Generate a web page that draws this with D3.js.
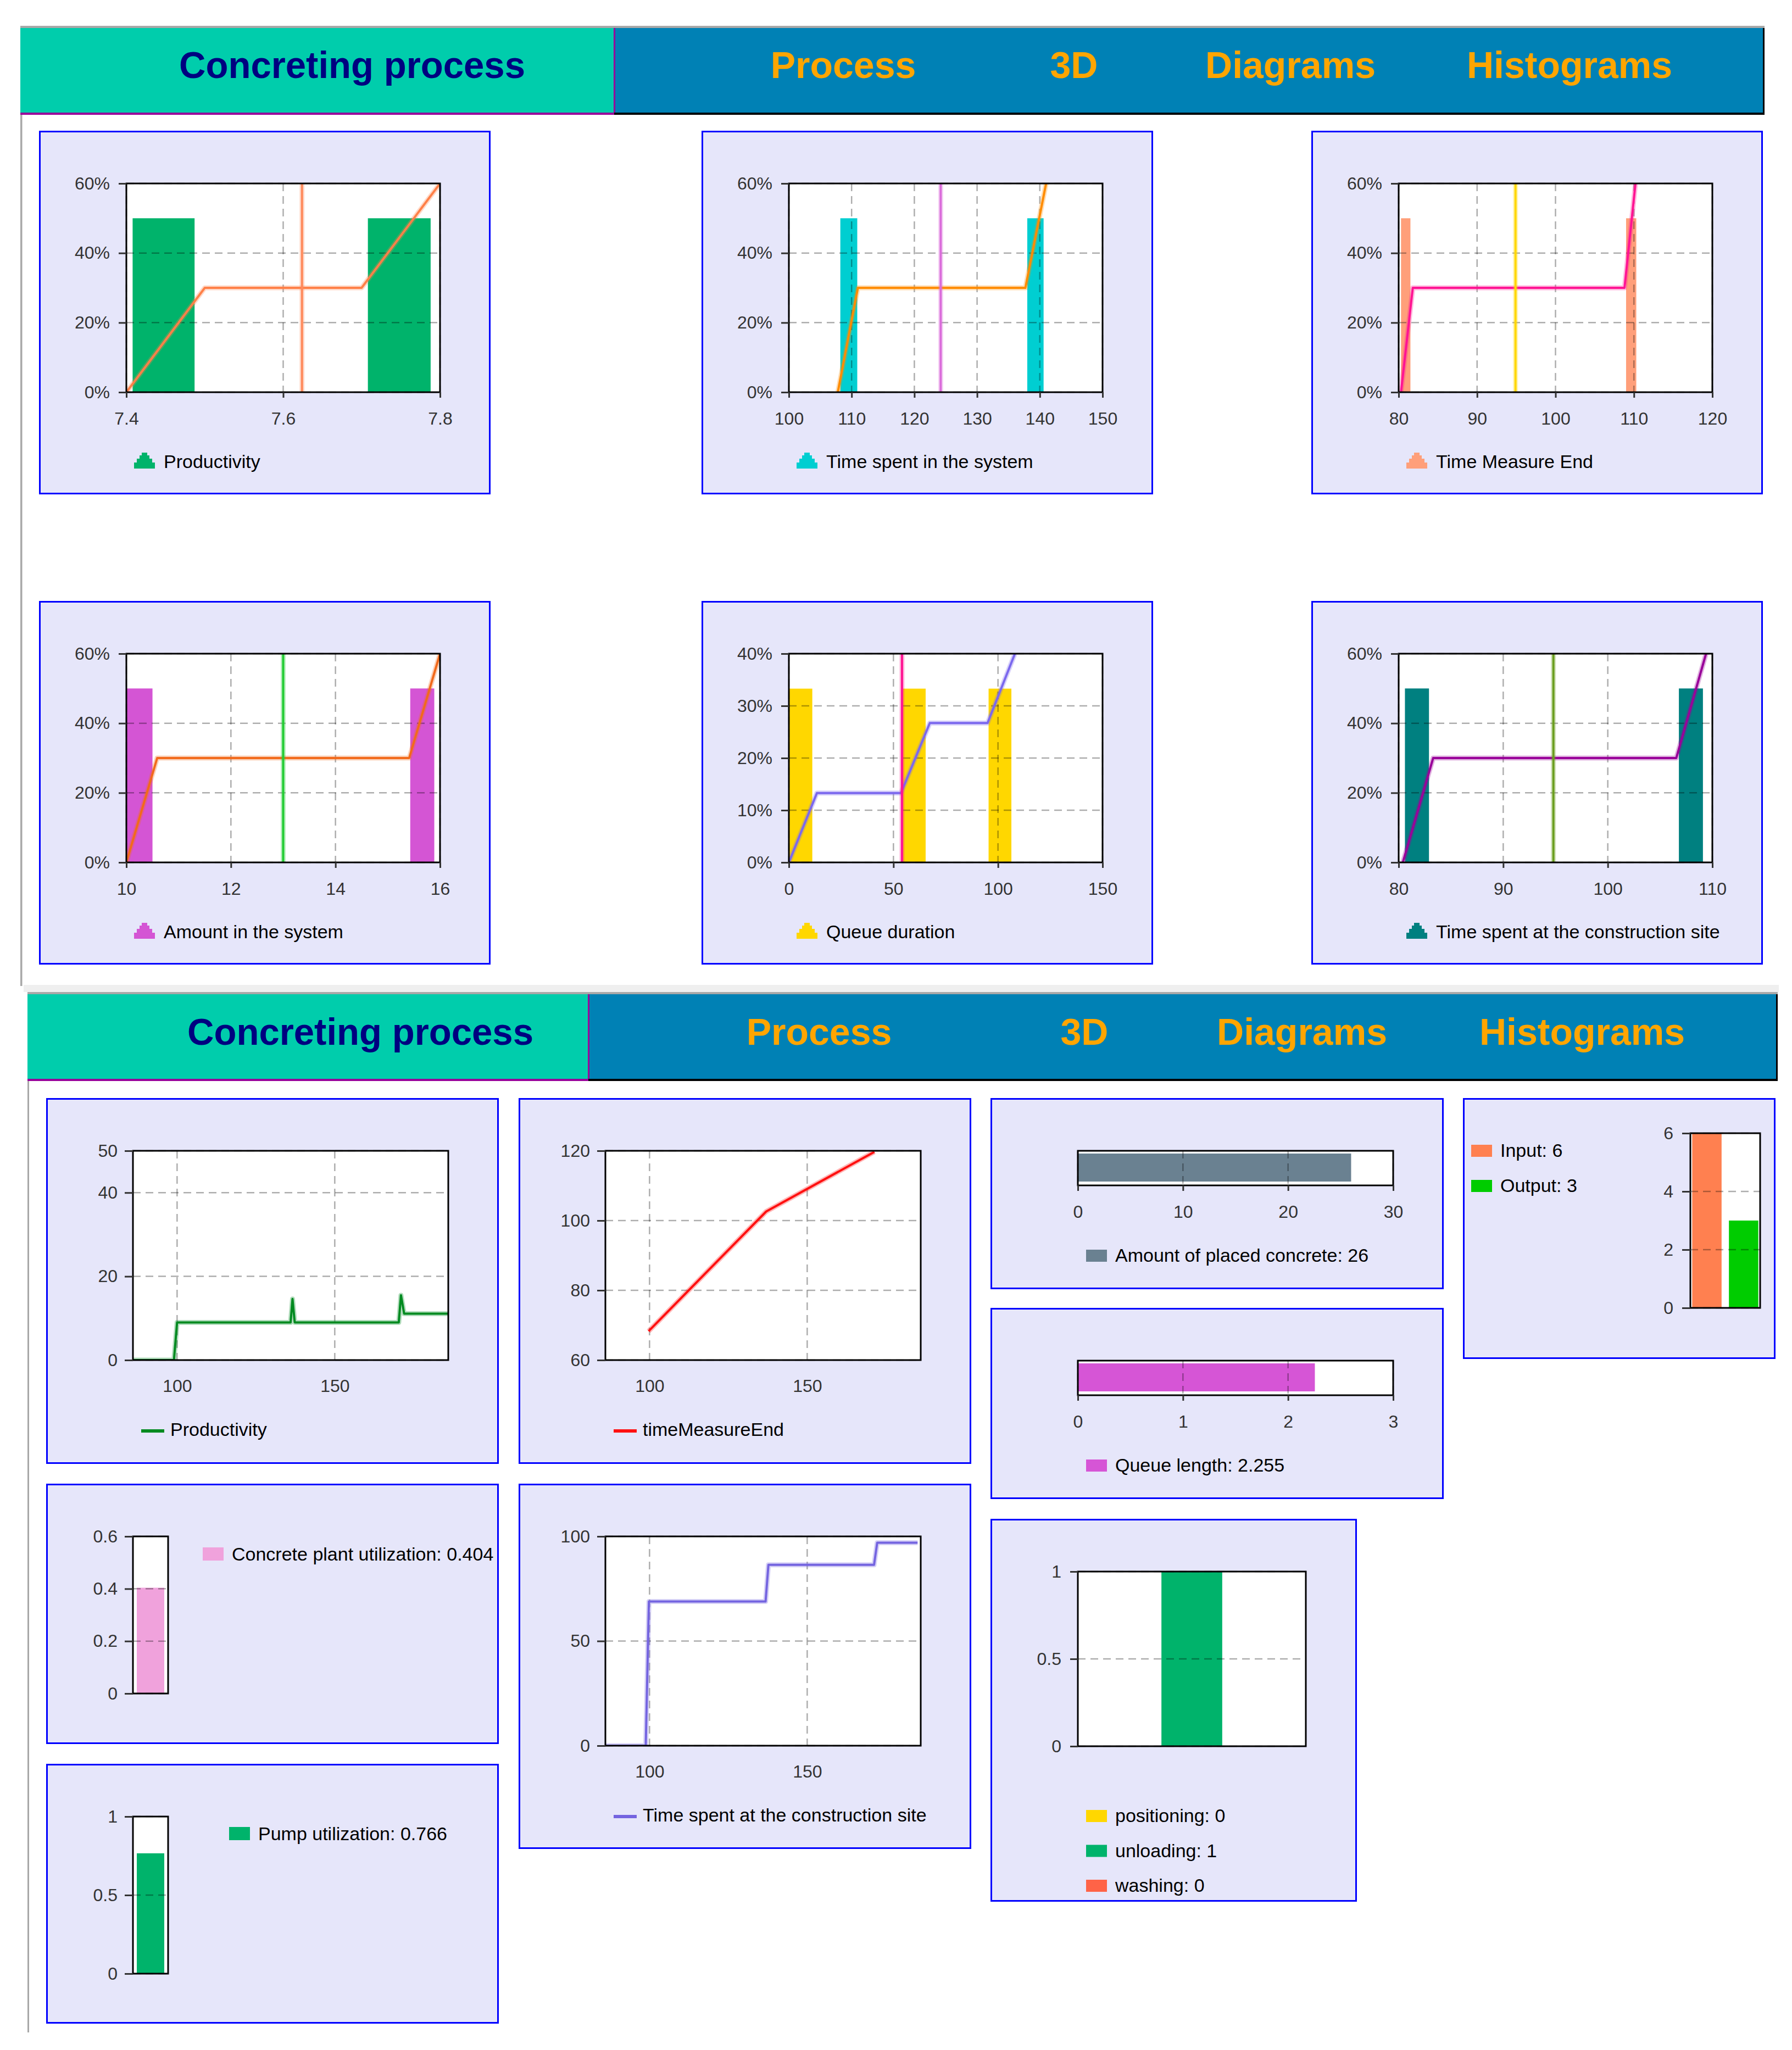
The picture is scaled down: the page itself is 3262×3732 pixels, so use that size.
<!DOCTYPE html>
<html>
<head>
<meta charset="utf-8">
<script src="https://cdn.jsdelivr.net/npm/d3@7"></script>
<style>
  body { margin: 0; background: #fff; }
  svg { display: block; }
</style>
</head>
<body>
<script>
// ---------- data ----------
const titleText = "Concreting process";
const tabLabels = ["Process", "3D", "Diagrams", "Histograms"];

// top histograms: bins [from, to, share], cumulative line [x, share], mean marker
const productivityBins = [[7.408, 7.487, 0.5], [7.708, 7.788, 0.5]];
const productivityCdf = [[7.4, 0], [7.5, 0.3], [7.7, 0.3], [7.8, 0.6]];
const productivityMean = 7.624;
const productivityTicks = [7.4, 7.6, 7.8];

const systemTimeBins = [[108.2, 110.9, 0.5], [138.0, 140.6, 0.5]];
const systemTimeCdf = [[107.8, 0], [111.0, 0.3], [137.7, 0.3], [141.0, 0.6]];
const systemTimeMean = 124.2;
const systemTimeTicks = [100, 110, 120, 130, 140, 150];

const measureEndBins = [[80.3, 81.5, 0.5], [109.0, 110.3, 0.5]];
const measureEndCdf = [[80.3, 0], [81.8, 0.3], [108.8, 0.3], [110.2, 0.6]];
const measureEndMean = 94.9;
const measureEndTicks = [80, 90, 100, 110, 120];

const amountBins = [[10.0, 10.5, 0.5], [15.43, 15.89, 0.5]];
const amountCdf = [[10, 0], [10.59, 0.3], [15.41, 0.3], [16, 0.6]];
const amountMean = 13.0;
const amountTicks = [10, 12, 14, 16];

const queueDurBins = [[0, 11.2, 0.333], [54.1, 65.4, 0.333], [95.5, 106.4, 0.333]];
const queueDurCdf = [[0, 0], [13.4, 0.133], [53.6, 0.133], [67.4, 0.267], [95.0, 0.267], [108.1, 0.4]];
const queueDurMean = 54.1;
const queueDurTicks = [0, 50, 100, 150];

const siteTimeBins = [[80.6, 82.9, 0.5], [106.8, 109.1, 0.5]];
const siteTimeCdf = [[80.4, 0], [83.3, 0.3], [106.55, 0.3], [109.4, 0.6]];
const siteTimeMean = 94.8;
const siteTimeTicks = [80, 90, 100, 110];

const pctTicks60 = [0, 0.2, 0.4, 0.6];
const pctTicks40 = [0, 0.1, 0.2, 0.3, 0.4];

// bottom time plots [time, value]
const timeTicks = [100, 150];
const productivitySeries = [[86, 0], [99, 0], [100, 9], [136, 9], [136.6, 14.6], [137.3, 9], [170.3, 9], [171, 15.5], [172, 11.1], [186, 11.1]];
const productivityTicksY = [0, 20, 40, 50];
const measureEndSeries = [[99.7, 68.3], [137, 102.6], [171.3, 119.7]];
const measureEndTicksY = [60, 80, 100, 120];
const siteTimeSeries = [[86, 0], [98.8, 0], [99.8, 68.9], [136.8, 68.9], [137.7, 86.4], [171.2, 86.4], [172.2, 97.0], [185, 97.0]];
const siteTimeTicksY = [0, 50, 100];

// gauges
const placedConcrete = 26;
const placedTicks = [0, 10, 20, 30];
const queueLength = 2.255;
const queueTicks = [0, 1, 2, 3];
const plantUtil = 0.404;
const plantTicks = [0, 0.2, 0.4, 0.6];
const pumpUtil = 0.766;
const pumpTicks = [0, 0.5, 1];
const flowLabels = ["Input", "Output"];
const flowValues = [6, 3];
const flowTicks = [0, 2, 4, 6];
const stateLabels = ["positioning", "unloading", "washing"];
const stateValues = [0, 1, 0];
const stateTicks = [0, 0.5, 1];

// ---------- setup ----------
const FONT = "'Liberation Sans', Arial, sans-serif";
const svg = d3.select("body").append("svg")
    .attr("width", 3262)
    .attr("height", 3732)
    .style("background-color", "#fff");

let clipCount = 0;
function clipTo(g, L, T, w, h) {
    const id = "clip" + (clipCount++);
    g.append("clipPath").attr("id", id)
        .append("rect").attr("x", L).attr("y", T).attr("width", w).attr("height", h);
    return "url(#" + id + ")";
}

function panel(px, py, w, h) {
    const g = svg.append("g").attr("transform", `translate(${px},${py})`);
    g.append("rect")
        .attr("x", 1.5).attr("y", 1.5)
        .attr("width", w - 3).attr("height", h - 3)
        .attr("fill", "#E6E6FA")
        .attr("stroke", "#0000FF")
        .attr("stroke-width", 3);
    return g;
}

function styleAxis(g, gen, tx, ty) {
    const a = g.append("g").attr("transform", `translate(${tx},${ty})`).call(gen);
    a.attr("font-size", 32).attr("font-family", FONT);
    a.select(".domain").remove();
    a.selectAll(".tick line").attr("stroke", "#333").attr("stroke-width", 3);
    a.selectAll(".tick text").attr("fill", "#333");
    return a;
}

function grid(g, xs, ys, x, y, L, T, w, h) {
    const gg = g.append("g")
        .attr("stroke", "#000")
        .attr("stroke-opacity", 0.32)
        .attr("stroke-width", 2.5)
        .attr("stroke-dasharray", "14,9");
    gg.selectAll(".gx").data(xs).join("line").attr("class", "gx")
        .attr("x1", d => x(d)).attr("x2", d => x(d))
        .attr("y1", T).attr("y2", T + h);
    gg.selectAll(".gy").data(ys).join("line").attr("class", "gy")
        .attr("x1", L).attr("x2", L + w)
        .attr("y1", d => y(d)).attr("y2", d => y(d));
}

function frame(g, L, T, w, h) {
    g.append("rect")
        .attr("x", L).attr("y", T).attr("width", w).attr("height", h)
        .attr("fill", "none").attr("stroke", "#000").attr("stroke-width", 3);
}

// line with a soft halo, like the original renderer
function softPath(g, data, line, color, clip) {
    const lg = g.append("g").attr("clip-path", clip);
    lg.append("path").datum(data).attr("d", line)
        .attr("fill", "none").attr("stroke", color)
        .attr("stroke-width", 9).attr("stroke-opacity", 0.3)
        .attr("stroke-linejoin", "round");
    lg.append("path").datum(data).attr("d", line)
        .attr("fill", "none").attr("stroke", color)
        .attr("stroke-width", 4)
        .attr("stroke-linejoin", "round");
}

function legendText(g, x, y, text) {
    g.append("text")
        .attr("x", x).attr("y", y)
        .attr("font-family", FONT)
        .attr("font-size", 34)
        .attr("fill", "#000")
        .text(text);
}

function legendBox(g, x, baseline, color, text, boxH) {
    const bh = boxH || 22;
    g.append("rect")
        .attr("x", x).attr("y", baseline - bh)
        .attr("width", 38).attr("height", bh)
        .attr("fill", color);
    legendText(g, x + 53, baseline, text);
}

// ---------- headers ----------
function header(o) {
    const g = svg.append("g");
    const hh = 154;
    g.append("rect").attr("x", o.left).attr("y", o.top).attr("width", o.right - o.left).attr("height", 4).attr("fill", "#a8a8a8");
    g.append("rect").attr("x", o.left).attr("y", o.top + 4).attr("width", o.split - o.left).attr("height", hh).attr("fill", "#00CDAC");
    g.append("rect").attr("x", o.split).attr("y", o.top + 4).attr("width", o.right - o.split).attr("height", hh).attr("fill", "#0081B5");
    g.append("rect").attr("x", o.left).attr("y", o.top + 4 + hh).attr("width", o.split - o.left).attr("height", 4).attr("fill", "#990099");
    g.append("rect").attr("x", o.split).attr("y", o.top + 4 + hh).attr("width", o.right - o.split).attr("height", 4).attr("fill", "#000");
    g.append("rect").attr("x", o.split - 1).attr("y", o.top + 4).attr("width", 3).attr("height", hh).attr("fill", "#990099");
    g.append("rect").attr("x", o.right - 3).attr("y", o.top + 4).attr("width", 3).attr("height", hh + 4).attr("fill", "#000");

    g.append("text")
        .attr("x", o.titleX).attr("y", o.baseline)
        .attr("text-anchor", "middle")
        .attr("font-family", FONT).attr("font-weight", "bold").attr("font-size", 68)
        .attr("fill", "#000080")
        .attr("textLength", 630).attr("lengthAdjust", "spacingAndGlyphs")
        .text(titleText);

    g.selectAll(".tab").data(tabLabels).join("text").attr("class", "tab")
        .attr("x", (d, i) => o.tabX[i]).attr("y", o.baseline)
        .attr("text-anchor", "middle")
        .attr("font-family", FONT).attr("font-weight", "bold").attr("font-size", 68)
        .attr("fill", "#FFA500")
        .text(d => d);
}

// page borders
svg.append("rect").attr("x", 37).attr("y", 47).attr("width", 3.5).attr("height", 1748).attr("fill", "#a8a8a8");
svg.append("rect").attr("x", 43).attr("y", 1793).attr("width", 3195).attr("height", 13).attr("fill", "#efefef");
svg.append("rect").attr("x", 50).attr("y", 1806).attr("width", 3).attr("height", 1894).attr("fill", "#a8a8a8");

header({ left: 37, top: 47, split: 1118, right: 3212, titleX: 641, baseline: 142, tabX: [1535, 1955, 2349, 2857] });
header({ left: 50, top: 1806, split: 1071, right: 3236, titleX: 656, baseline: 1902, tabX: [1491, 1974, 2370, 2880] });

// ---------- top histogram panels ----------
const mountain = "M0,29V18H5V11H10V5H14V0H24V5H28V11H33V18H38V29Z";

function histPanel(px, py, c) {
    const g = panel(px, py, 822, 662);
    const L = 159, T = 96, w = 571, h = 380;
    const x = d3.scaleLinear().domain(c.xDomain).range([L, L + w]);
    const y = d3.scaleLinear().domain([0, c.yTicks[c.yTicks.length - 1]]).range([T + h, T]);
    const clip = clipTo(g, L, T, w, h);

    g.append("rect").attr("x", L).attr("y", T).attr("width", w).attr("height", h).attr("fill", "#fff");

    g.append("g").selectAll("rect").data(c.bins).join("rect")
        .attr("x", d => x(d[0]))
        .attr("y", d => y(d[2]))
        .attr("width", d => x(d[1]) - x(d[0]))
        .attr("height", d => y(0) - y(d[2]))
        .attr("fill", c.barColor);

    grid(g, c.xTicks, c.yTicks, x, y, L, T, w, h);

    const line = d3.line().x(d => x(d[0])).y(d => y(d[1]));
    softPath(g, c.cdf, line, c.lineColor, clip);
    softPath(g, [[c.mean, 0], [c.mean, y.domain()[1]]], line, c.meanColor, clip);

    frame(g, L, T, w, h);

    styleAxis(g, d3.axisBottom(x).tickValues(c.xTicks).tickSize(10).tickPadding(26).tickFormat(d3.format("~g")), 0, T + h);
    styleAxis(g, d3.axisLeft(y).tickValues(c.yTicks).tickSize(14).tickPadding(16).tickFormat(d3.format(".0%")), L, 0);

    g.append("path").attr("d", mountain).attr("transform", `translate(${L + 14},${586})`).attr("fill", c.barColor);
    legendText(g, L + 68, 614, c.label);
}

histPanel(71, 238, {
    xDomain: [7.4, 7.8], xTicks: productivityTicks, yTicks: pctTicks60,
    bins: productivityBins, cdf: productivityCdf, mean: productivityMean,
    barColor: "#00B36B", lineColor: "#FF8048", meanColor: "#FF8A5C", label: "Productivity"
});
histPanel(1277, 238, {
    xDomain: [100, 150], xTicks: systemTimeTicks, yTicks: pctTicks60,
    bins: systemTimeBins, cdf: systemTimeCdf, mean: systemTimeMean,
    barColor: "#00CED1", lineColor: "#FF8C00", meanColor: "#DA6BDA", label: "Time spent in the system"
});
histPanel(2387, 238, {
    xDomain: [80, 120], xTicks: measureEndTicks, yTicks: pctTicks60,
    bins: measureEndBins, cdf: measureEndCdf, mean: measureEndMean,
    barColor: "#FF9F7A", lineColor: "#FF1493", meanColor: "#FFD700", label: "Time Measure End"
});
histPanel(71, 1094, {
    xDomain: [10, 16], xTicks: amountTicks, yTicks: pctTicks60,
    bins: amountBins, cdf: amountCdf, mean: amountMean,
    barColor: "#D455D4", lineColor: "#F26A1B", meanColor: "#22CC33", label: "Amount in the system"
});
histPanel(1277, 1094, {
    xDomain: [0, 150], xTicks: queueDurTicks, yTicks: pctTicks40,
    bins: queueDurBins, cdf: queueDurCdf, mean: queueDurMean,
    barColor: "#FFD700", lineColor: "#7B68EE", meanColor: "#FF1493", label: "Queue duration"
});
histPanel(2387, 1094, {
    xDomain: [80, 110], xTicks: siteTimeTicks, yTicks: pctTicks60,
    bins: siteTimeBins, cdf: siteTimeCdf, mean: siteTimeMean,
    barColor: "#008080", lineColor: "#990099", meanColor: "#6B9E1F", label: "Time spent at the construction site"
});

// ---------- bottom time plots ----------
function timePanel(px, py, c) {
    const g = panel(px, py, 824, c.ph);
    const L = 158, T = 96, w = 574, h = 381;
    const x = d3.scaleLinear().domain([86, 186]).range([L, L + w]);
    const y = d3.scaleLinear().domain([c.yTicks[0], c.yTicks[c.yTicks.length - 1]]).range([T + h, T]);
    const clip = clipTo(g, L, T, w, h);

    g.append("rect").attr("x", L).attr("y", T).attr("width", w).attr("height", h).attr("fill", "#fff");
    grid(g, timeTicks, c.yTicks, x, y, L, T, w, h);

    const line = d3.line().x(d => x(d[0])).y(d => y(d[1]));
    softPath(g, c.series, line, c.color, clip);
    frame(g, L, T, w, h);

    styleAxis(g, d3.axisBottom(x).tickValues(timeTicks).tickSize(0).tickPadding(35), 0, T + h);
    styleAxis(g, d3.axisLeft(y).tickValues(c.yTicks).tickSize(15).tickPadding(13).tickFormat(d3.format("~g")), L, 0);

    g.append("line").attr("x1", L + 15).attr("x2", L + 57).attr("y1", 606).attr("y2", 606)
        .attr("stroke", c.color).attr("stroke-width", 6);
    legendText(g, L + 68, 615, c.label);
}

timePanel(84, 1999, { ph: 666, yTicks: productivityTicksY, series: productivitySeries, color: "#008A20", label: "Productivity" });
timePanel(944, 1999, { ph: 666, yTicks: measureEndTicksY, series: measureEndSeries, color: "#FF1010", label: "timeMeasureEnd" });
timePanel(944, 2701, { ph: 665, yTicks: siteTimeTicksY, series: siteTimeSeries, color: "#7464E0", label: "Time spent at the construction site" });

// ---------- horizontal gauges ----------
function hGauge(px, py, c) {
    const g = panel(px, py, 825, 348);
    const L = 159, T = 96, w = 574, h = 63;
    const x = d3.scaleLinear().domain([c.ticks[0], c.ticks[c.ticks.length - 1]]).range([L, L + w]);
    g.append("rect").attr("x", L).attr("y", T).attr("width", w).attr("height", h).attr("fill", "#fff");
    g.append("rect")
        .attr("x", x(0)).attr("y", T + 5)
        .attr("width", x(c.value) - x(0)).attr("height", h - 12)
        .attr("fill", c.color);
    grid(g, c.ticks, [], x, null, L, T, w, h);
    frame(g, L, T, w, h);
    styleAxis(g, d3.axisBottom(x).tickValues(c.ticks).tickSize(10).tickPadding(26).tickFormat(d3.format("~g")), 0, T + h);
    legendBox(g, L + 15, 298, c.color, c.label + ": " + c.value);
}

hGauge(1803, 1999, { ticks: placedTicks, value: placedConcrete, color: "#6A8191", label: "Amount of placed concrete" });
hGauge(1803, 2381, { ticks: queueTicks, value: queueLength, color: "#D655D6", label: "Queue length" });

// ---------- vertical single-bar gauges ----------
function vGauge(px, py, c) {
    const g = panel(px, py, 824, c.ph);
    const L = 158, T = 96, w = 64, h = 286;
    const y = d3.scaleLinear().domain([0, c.ticks[c.ticks.length - 1]]).range([T + h, T]);
    g.append("rect").attr("x", L).attr("y", T).attr("width", w).attr("height", h).attr("fill", "#fff");
    g.append("rect")
        .attr("x", L + 7).attr("y", y(c.value))
        .attr("width", w - 14).attr("height", y(0) - y(c.value))
        .attr("fill", c.color);
    grid(g, [], c.ticks, null, y, L, T, w, h);
    frame(g, L, T, w, h);
    styleAxis(g, d3.axisLeft(y).tickValues(c.ticks).tickSize(15).tickPadding(13).tickFormat(d3.format("~g")), L, 0);
    legendBox(g, c.legendX, c.legendY, c.color, c.label + ": " + c.value, 24);
}

vGauge(84, 2701, { ph: 474, ticks: plantTicks, value: plantUtil, color: "#F0A2DC", label: "Concrete plant utilization", legendX: 285, legendY: 140 });
vGauge(84, 3211, { ph: 473, ticks: pumpTicks, value: pumpUtil, color: "#00B36B", label: "Pump utilization", legendX: 333, legendY: 139 });

// ---------- input / output bars ----------
(function () {
    const g = panel(2663, 1999, 569, 475);
    const L = 414, T = 64, w = 127, h = 318;
    const x = d3.scaleBand().domain(flowLabels).range([L, L + w]).paddingInner(0.2).paddingOuter(0.05);
    const y = d3.scaleLinear().domain([0, 6]).range([T + h, T]);
    const colors = ["#FF8050", "#00CC00"];
    g.append("rect").attr("x", L).attr("y", T).attr("width", w).attr("height", h).attr("fill", "#fff");
    g.selectAll(".bar").data(flowValues).join("rect").attr("class", "bar")
        .attr("x", (d, i) => x(flowLabels[i]))
        .attr("y", d => y(d))
        .attr("width", x.bandwidth())
        .attr("height", d => y(0) - y(d))
        .attr("fill", (d, i) => colors[i]);
    grid(g, [], flowTicks, null, y, L, T, w, h);
    frame(g, L, T, w, h);
    styleAxis(g, d3.axisLeft(y).tickValues(flowTicks).tickSize(15).tickPadding(16).tickFormat(d3.format("~g")), L, 0);
    flowLabels.forEach((lab, i) => legendBox(g, 15, 107 + i * 64, colors[i], lab + ": " + flowValues[i]));
})();

// ---------- state bars ----------
(function () {
    const g = panel(1803, 2765, 667, 697);
    const L = 159, T = 96, w = 415, h = 318;
    const x = d3.scaleBand().domain(stateLabels).range([L, L + w]).paddingInner(0.2).paddingOuter(0.1);
    const y = d3.scaleLinear().domain([0, 1]).range([T + h, T]);
    const colors = ["#FFD700", "#00B36B", "#FF6347"];
    g.append("rect").attr("x", L).attr("y", T).attr("width", w).attr("height", h).attr("fill", "#fff");
    g.selectAll(".bar").data(stateValues).join("rect").attr("class", "bar")
        .attr("x", (d, i) => x(stateLabels[i]))
        .attr("y", d => y(d))
        .attr("width", x.bandwidth())
        .attr("height", d => y(0) - y(d))
        .attr("fill", (d, i) => colors[i]);
    grid(g, [], stateTicks, null, y, L, T, w, h);
    frame(g, L, T, w, h);
    styleAxis(g, d3.axisLeft(y).tickValues(stateTicks).tickSize(14).tickPadding(16).tickFormat(d3.format("~g")), L, 0);
    stateLabels.forEach((lab, i) => legendBox(g, 174, 552 + i * 63.5, colors[i], lab + ": " + stateValues[i]));
})();
</script>
</body>
</html>
